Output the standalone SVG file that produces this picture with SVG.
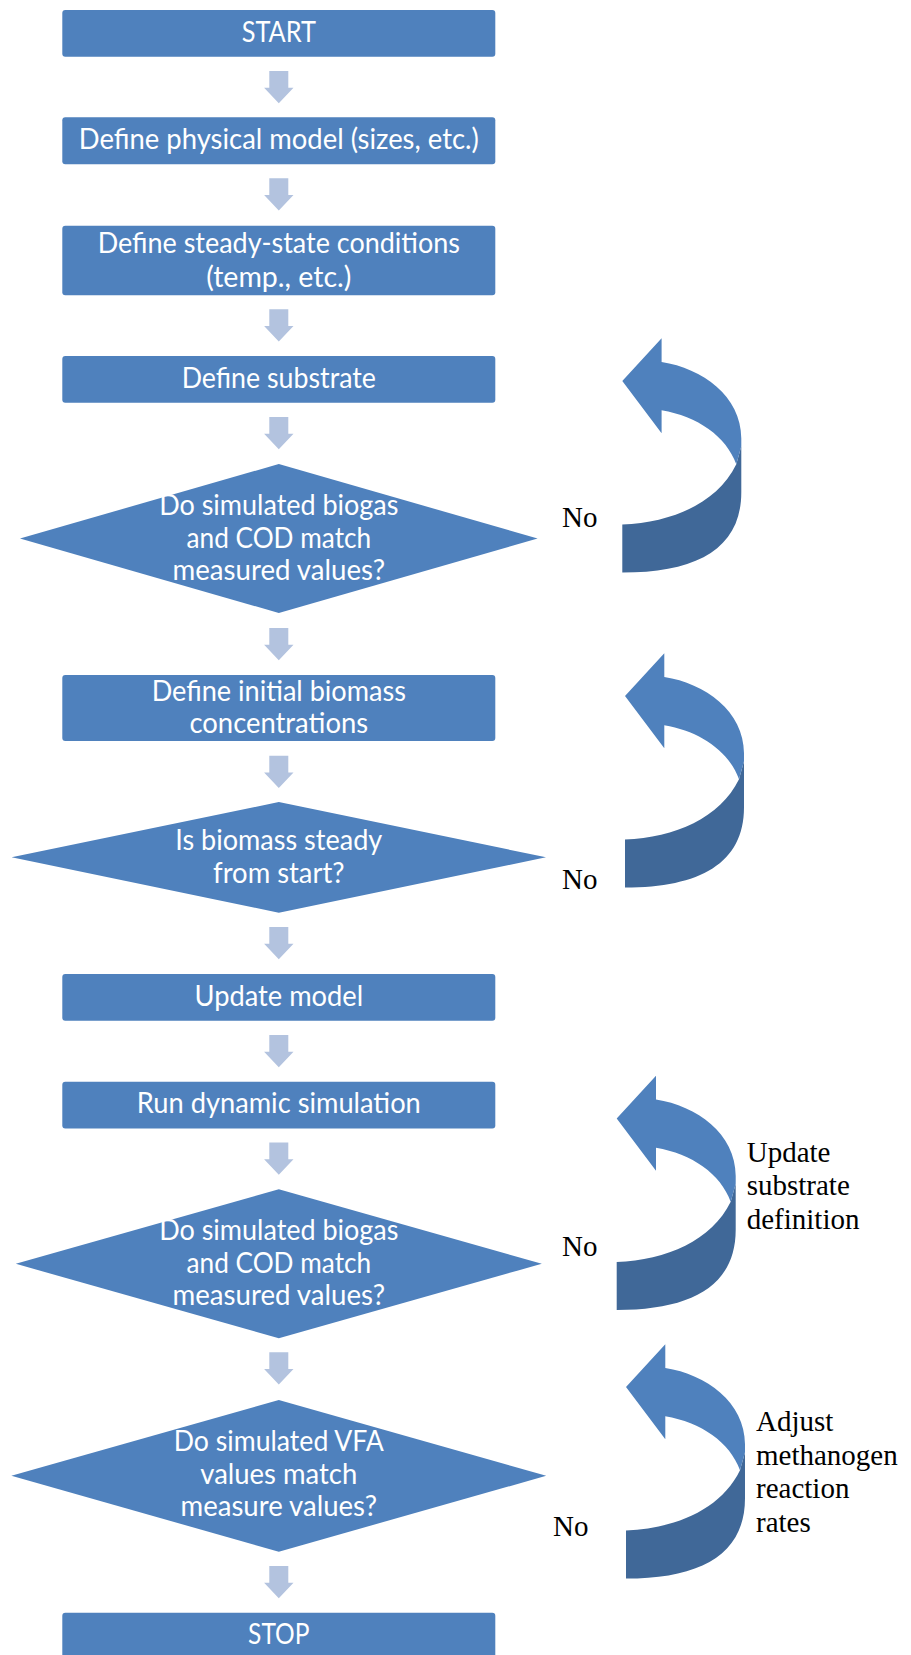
<svg xmlns="http://www.w3.org/2000/svg" xmlns:xlink="http://www.w3.org/1999/xlink" width="911" height="1655" viewBox="0 0 911 1655">
<style>
.box{fill:#4F81BD;}
.t{font-family:Lato,"Open Sans","Liberation Sans",sans-serif;font-size:28px;fill:#FFFFFF;text-anchor:middle;}
.lbl{font-family:"Liberation Serif","Times New Roman",serif;font-size:29px;fill:#000000;}
.down{fill:#B3C3DF;}
.ul{fill:#4F81BD;}
.ud{fill:#406898;}
</style>
<defs>
<path id="dn" class="down" d="M-9.5,0 H9.5 V16.7 H14.7 L0,32.3 L-14.7,16.7 H-9.5 Z"/>
<g id="uturn">
<path class="ud" d="M0,186.3 C50,184 95,165 114,126 L119,108 L119,154 C119,210 75,234.3 0,234.3 Z"/>
<path class="ul" d="M0,42.7 L39.3,0 L39.3,23.7 C80,30 119,58 119,100 L119,108 L114,126 C104,98 75,78 39.3,72 L39.3,95 Z"/>
</g>
</defs>
<rect width="911" height="1655" fill="#FFFFFF"/>

<g id="connectors">
<use xlink:href="#dn" transform="translate(278.8,71)"/>
<use xlink:href="#dn" transform="translate(278.8,178.3)"/>
<use xlink:href="#dn" transform="translate(278.8,309.3)"/>
<use xlink:href="#dn" transform="translate(278.8,417)"/>
<use xlink:href="#dn" transform="translate(278.8,628)"/>
<use xlink:href="#dn" transform="translate(278.8,755.7)"/>
<use xlink:href="#dn" transform="translate(278.8,927)"/>
<use xlink:href="#dn" transform="translate(278.8,1035)"/>
<use xlink:href="#dn" transform="translate(278.8,1142.5)"/>
<use xlink:href="#dn" transform="translate(278.8,1352.3)"/>
<use xlink:href="#dn" transform="translate(278.8,1566)"/>
<use xlink:href="#uturn" transform="translate(622.3,338.3)"/>
<use xlink:href="#uturn" transform="translate(625,653.3)"/>
<use xlink:href="#uturn" transform="translate(616.7,1075.7)"/>
<use xlink:href="#uturn" transform="translate(626,1344.3)"/>
<text class="lbl" x="562" y="527">No</text>
<text class="lbl" x="562" y="889">No</text>
<text class="lbl" x="562" y="1256">No</text>
<text class="lbl" x="553" y="1536">No</text>
<text class="lbl" x="746.7" y="1161.7">Update</text>
<text class="lbl" x="746.7" y="1195.3">substrate</text>
<text class="lbl" x="746.7" y="1229">definition</text>
<text class="lbl" x="756" y="1431">Adjust</text>
<text class="lbl" x="756" y="1464.5">methanogen</text>
<text class="lbl" x="756" y="1498">reaction</text>
<text class="lbl" x="756" y="1531.5">rates</text>
</g>

<g id="start">
<rect class="box" x="62.3" y="10" width="433" height="46.7" rx="3"/>
<text class="t" x="278.8" y="42.3" textLength="74.3" lengthAdjust="spacingAndGlyphs">START</text>
</g>
<g id="define-physical">
<rect class="box" x="62.3" y="117.3" width="433" height="47" rx="3"/>
<text class="t" x="278.8" y="149" textLength="400" lengthAdjust="spacingAndGlyphs">Define physical model (sizes, etc.)</text>
</g>
<g id="define-steady">
<rect class="box" x="62.3" y="225.7" width="433" height="69.6" rx="3"/>
<text class="t" x="278.8" y="252.5" textLength="362.3" lengthAdjust="spacingAndGlyphs">Define steady-state conditions</text>
<text class="t" x="278.8" y="286.5" textLength="145.3" lengthAdjust="spacingAndGlyphs">(temp., etc.)</text>
</g>
<g id="define-substrate">
<rect class="box" x="62.3" y="356" width="433" height="46.7" rx="3"/>
<text class="t" x="278.8" y="387.7" textLength="194.3" lengthAdjust="spacingAndGlyphs">Define substrate</text>
</g>
<g id="decision-1">
<polygon class="box" points="278.8,464 537.6,538.5 278.8,613 20,538.5"/>
<text class="t" x="278.8" y="514.5" textLength="239.3" lengthAdjust="spacingAndGlyphs">Do simulated biogas</text>
<text class="t" x="278.8" y="547.5" textLength="184.6" lengthAdjust="spacingAndGlyphs">and COD match</text>
<text class="t" x="278.8" y="580" textLength="212.5" lengthAdjust="spacingAndGlyphs">measured values?</text>
</g>
<g id="define-biomass">
<rect class="box" x="62.3" y="675" width="433" height="66" rx="3"/>
<text class="t" x="278.8" y="700.7" textLength="254.3" lengthAdjust="spacingAndGlyphs">Define initial biomass</text>
<text class="t" x="278.8" y="733" textLength="178.6" lengthAdjust="spacingAndGlyphs">concentrations</text>
</g>
<g id="decision-2">
<polygon class="box" points="278.8,802 546,857.3 278.8,912.7 11.6,857.3"/>
<text class="t" x="278.8" y="849.5" textLength="207" lengthAdjust="spacingAndGlyphs">Is biomass steady</text>
<text class="t" x="278.8" y="882.7" textLength="131.4" lengthAdjust="spacingAndGlyphs">from start?</text>
</g>
<g id="update-model">
<rect class="box" x="62.3" y="974" width="433" height="46.7" rx="3"/>
<text class="t" x="278.8" y="1006" textLength="168.6" lengthAdjust="spacingAndGlyphs">Update model</text>
</g>
<g id="run-dynamic">
<rect class="box" x="62.3" y="1081.7" width="433" height="46.7" rx="3"/>
<text class="t" x="278.8" y="1113.3" textLength="284" lengthAdjust="spacingAndGlyphs">Run dynamic simulation</text>
</g>
<g id="decision-3">
<polygon class="box" points="278.8,1189.3 541.8,1263.8 278.8,1338.3 15.8,1263.8"/>
<text class="t" x="278.8" y="1240" textLength="239.3" lengthAdjust="spacingAndGlyphs">Do simulated biogas</text>
<text class="t" x="278.8" y="1273" textLength="184.6" lengthAdjust="spacingAndGlyphs">and COD match</text>
<text class="t" x="278.8" y="1304.5" textLength="212.5" lengthAdjust="spacingAndGlyphs">measured values?</text>
</g>
<g id="decision-4">
<polygon class="box" points="278.8,1400 546.2,1475.8 278.8,1551.7 11.4,1475.8"/>
<text class="t" x="278.8" y="1451" textLength="210" lengthAdjust="spacingAndGlyphs">Do simulated VFA</text>
<text class="t" x="278.8" y="1483.5" textLength="157" lengthAdjust="spacingAndGlyphs">values match</text>
<text class="t" x="278.8" y="1516" textLength="196.4" lengthAdjust="spacingAndGlyphs">measure values?</text>
</g>
<g id="stop">
<rect class="box" x="62.3" y="1612.7" width="433" height="47" rx="3"/>
<text class="t" x="278.8" y="1644.3" textLength="61.4" lengthAdjust="spacingAndGlyphs">STOP</text>
</g>
</svg>
